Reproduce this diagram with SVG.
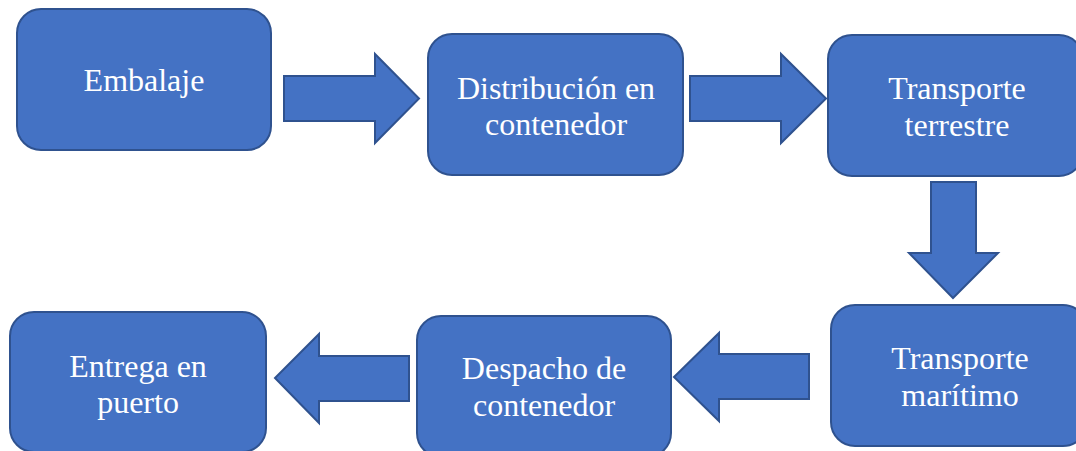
<svg xmlns="http://www.w3.org/2000/svg" width="1076" height="451" viewBox="0 0 1076 451">
<style>
.box{fill:#4472C4;stroke:#2F528F;stroke-width:2}
.arr{fill:#4472C4;stroke:#2F528F;stroke-width:2;stroke-linejoin:miter}
.lbl{font-family:"Liberation Serif","Times New Roman",serif;font-size:32px;fill:#FFFFFF;text-anchor:middle}
</style>
<rect width="1076" height="451" fill="#FFFFFF"/>
<g id="connectors">
<polygon class="arr" points="284,76 375,76 375,54 419,98.5 375,143 375,121 284,121"/>
<polygon class="arr" points="690,76 781,76 781,54 826,98.5 781,143 781,121 690,121"/>
<polygon class="arr" points="931,182 976,182 976,253 998,253 953,298 909,253 931,253"/>
<polygon class="arr" points="809,354 719,354 719,333 674,377 719,421 719,399 809,399"/>
<polygon class="arr" points="409,356 319,356 319,334 275,378 319,423 319,401 409,401"/>
</g>
<g id="embalaje">
<rect class="box" x="17" y="9" width="254" height="141" rx="24"/>
<text class="lbl" x="144" y="91">Embalaje</text>
</g>
<g id="distribucion">
<rect class="box" x="428" y="34" width="255" height="141" rx="24"/>
<text class="lbl" x="556" y="99">Distribución en</text>
<text class="lbl" x="556" y="135">contenedor</text>
</g>
<g id="terrestre">
<rect class="box" x="828" y="35" width="255" height="141" rx="24"/>
<text class="lbl" x="957" y="99">Transporte</text>
<text class="lbl" x="957" y="136">terrestre</text>
</g>
<g id="maritimo">
<rect class="box" x="831" y="305" width="256" height="141" rx="24"/>
<text class="lbl" x="960" y="369">Transporte</text>
<text class="lbl" x="960" y="406">marítimo</text>
</g>
<g id="despacho">
<rect class="box" x="417" y="316" width="254" height="141" rx="24"/>
<text class="lbl" x="544" y="379">Despacho de</text>
<text class="lbl" x="544" y="416">contenedor</text>
</g>
<g id="entrega">
<rect class="box" x="10" y="312" width="256" height="140" rx="24"/>
<text class="lbl" x="138" y="377">Entrega en</text>
<text class="lbl" x="138" y="413">puerto</text>
</g>
</svg>
